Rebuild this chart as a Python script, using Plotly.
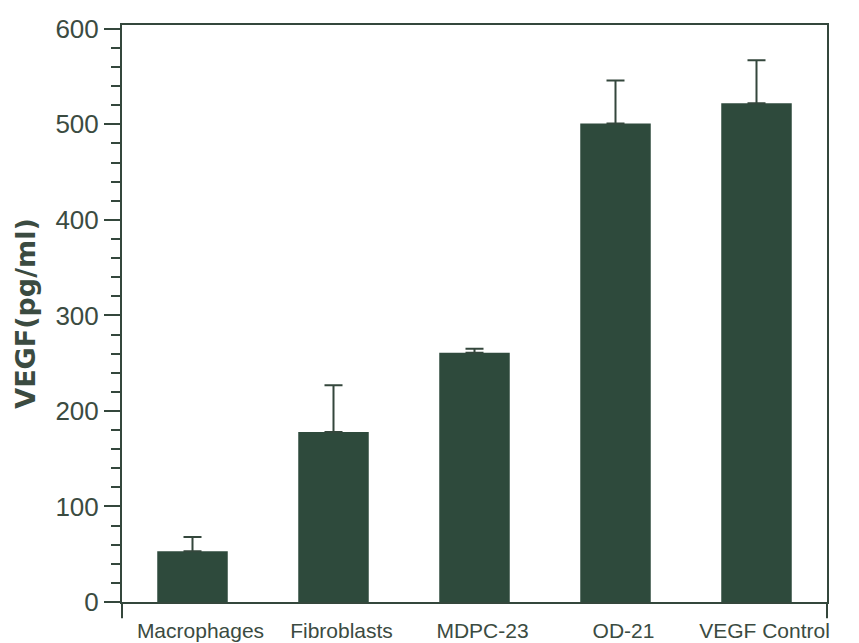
import plotly.graph_objects as go

categories = ["Macrophages", "Fibroblasts", "MDPC-23", "OD-21", "VEGF Control"]
vegf_means = [53, 178, 261, 501, 522]
vegf_errors = [15, 49, 4, 45, 45]
y_tick_values = [0, 100, 200, 300, 400, 500, 600]

bar_color = "#2e4a3c"
axis_color = "#34473c"
text_color = "#3b4b41"

fig = go.Figure()
fig.add_trace(go.Bar(
    x=categories,
    y=vegf_means,
    width=0.5,
    marker=dict(color=bar_color, line=dict(width=0)),
    error_y=dict(type="data", array=vegf_errors, symmetric=False,
                 arrayminus=[0] * len(vegf_errors),
                 color=axis_color, thickness=2, width=9),
))

fig.update_layout(
    width=859, height=643,
    margin=dict(l=122, r=32, t=25, b=41, autoexpand=False),
    paper_bgcolor="white", plot_bgcolor="white",
    showlegend=False,
    font=dict(family="Liberation Sans, Arial, sans-serif", color=text_color),
    xaxis=dict(
        type="category",
        automargin=False,
        showline=True, linecolor=axis_color, linewidth=2, mirror=True,
        ticks="", showgrid=False,
        tickfont=dict(size=21, color=text_color),
        ticklabelstandoff=9,
        ticklabelshift=8,
    ),
    yaxis=dict(
        range=[0, 604],
        automargin=False,
        tickvals=y_tick_values,
        showline=True, linecolor=axis_color, linewidth=2, mirror=True,
        ticks="outside", ticklen=16, tickwidth=2, tickcolor=axis_color,
        minor=dict(dtick=20, tick0=0, ticks="outside", ticklen=9,
                   tickwidth=2, tickcolor=axis_color, showgrid=False),
        showgrid=False, zeroline=False,
        tickfont=dict(size=26, color=text_color),
        title=dict(text="<b>VEGF(pg/ml)</b>", standoff=12,
                   font=dict(size=27, color=text_color,
                             family="DejaVu Sans, sans-serif")),
    ),
)

# axis line extensions below the zero line at both ends of the x axis
for xd in (0, 1):
    fig.add_shape(type="line", xref="x domain", yref="y domain",
                  x0=xd, x1=xd, y0=0, y1=-0.028,
                  line=dict(color=axis_color, width=2))

fig.write_html("out.html")
